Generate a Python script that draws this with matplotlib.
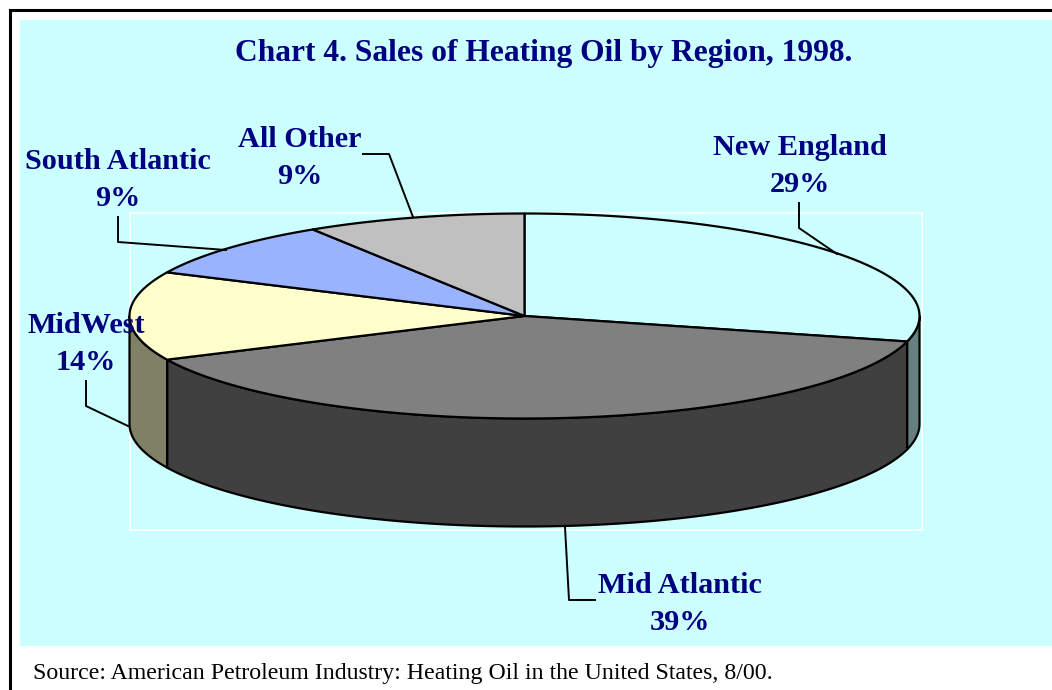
import numpy as np
import matplotlib
matplotlib.use('Agg')
import matplotlib.pyplot as plt
from matplotlib.patches import Rectangle

regions = ['New England', 'Mid Atlantic', 'MidWest', 'South Atlantic', 'All Other']
shares = [29, 39, 14, 9, 9]
top_colors = ['#CCFFFF', '#808080', '#FFFFCC', '#99B3FF', '#C0C0C0']
side_colors = ['#668080', '#404040', '#808066', '#4D5A80', '#606060']

title = 'Chart 4. Sales of Heating Oil by Region, 1998.'
source = 'Source: American Petroleum Industry: Heating Oil in the United States, 8/00.'

NAVY = '#000080'
CX, CY = 524.5, 316
RX, RY = 395, 102.5
DEPTH = 108

plt.rcParams['font.family'] = ['Liberation Serif', 'DejaVu Serif']

fig = plt.figure(figsize=(10.52, 6.9), dpi=100, facecolor='white')
ax = fig.add_axes([0, 0, 1, 1])
ax.set_xlim(0, 1052)
ax.set_ylim(690, 0)
ax.axis('off')

# page background and frame
ax.add_patch(Rectangle((20, 20), 1032, 626, facecolor='#CCFFFF', edgecolor='none', zorder=0))
ax.plot([10, 10, 1052], [690, 10, 10], color='black', linewidth=2.2, zorder=1,
        solid_joinstyle='miter', solid_capstyle='butt')
ax.add_patch(Rectangle((130, 213), 792, 317, facecolor='none', edgecolor='white', linewidth=1.2, zorder=1))


def ellipse_pts(a0, a1, dy=0):
    # angles in degrees, clockwise from 12 o'clock
    t = np.radians(np.linspace(a0, a1, max(int(abs(a1 - a0)) * 2, 2)))
    return CX + RX * np.sin(t), CY - RY * np.cos(t) + dy


edges = np.concatenate([[0], np.cumsum(shares) / np.sum(shares) * 360])

# rim: only the front half of the disc shows, from 90 to 270 degrees
for i in range(len(shares)):
    a0, a1 = max(edges[i], 90), min(edges[i + 1], 270)
    if a1 <= a0:
        continue
    x0, y0 = ellipse_pts(a0, a1)
    x1, y1 = ellipse_pts(a0, a1, DEPTH)
    ax.fill(np.r_[x0, x1[::-1]], np.r_[y0, y1[::-1]], facecolor=side_colors[i],
            edgecolor='black', linewidth=1.6, zorder=2, joinstyle='round')

for i in range(len(shares)):
    x0, y0 = ellipse_pts(edges[i], edges[i + 1])
    ax.fill(np.r_[CX, x0], np.r_[CY, y0], facecolor=top_colors[i],
            edgecolor='black', linewidth=1.6, zorder=3, joinstyle='round')

# leader lines
leaders = {
    'New England': ([799, 799, 837], [203, 228, 254]),
    'Mid Atlantic': ([565, 569, 595], [527, 600, 600]),
    'MidWest': ([86, 86, 128], [381, 406, 426]),
    'South Atlantic': ([118, 118, 226], [217, 242, 250]),
    'All Other': ([363, 389, 413], [154, 154, 217]),
}
label_pos = {
    'New England': (800, 166),
    'Mid Atlantic': (680, 604),
    'MidWest': (86, 344),
    'South Atlantic': (118, 180),
    'All Other': (300, 158),
}
for name, share in zip(regions, shares):
    lx, ly = leaders[name]
    ax.plot(lx, ly, color='black', linewidth=1.4, zorder=4)
    px, py = label_pos[name]
    ax.text(px, py, f'{name}\n{share}%', color=NAVY, fontsize=21.8, fontweight='bold',
            ha='center', va='center', linespacing=1.5, zorder=5)

ax.text(544, 53, title, color=NAVY, fontsize=22.7, fontweight='bold',
        ha='center', va='center', zorder=5)
ax.text(33, 673, source, color='black', fontsize=17.2, ha='left', va='center', zorder=5)

fig.savefig('out.png', dpi=100)
